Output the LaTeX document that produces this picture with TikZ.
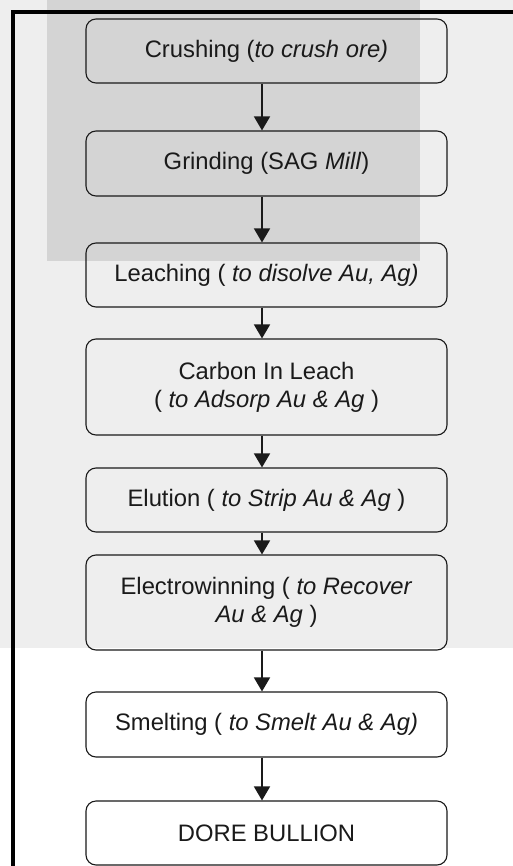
\documentclass[tikz,border=0pt]{standalone}
\usepackage{fontspec}
\setmainfont{Liberation Sans}
\usetikzlibrary{arrows.meta}
\definecolor{bandgray}{HTML}{EEEEEE}
\definecolor{markgray}{HTML}{D4D4D4}
\definecolor{ink}{HTML}{1A1A1A}
\begin{document}
\begin{tikzpicture}[x=1pt,y=-1pt,
  stepbox/.style={draw=ink,line width=1.1pt,rounded corners=10pt,minimum width=361pt,
    inner sep=0pt,align=center,text=ink,font=\fontsize{23.8}{28}\selectfont},
  flow/.style={draw=ink,line width=1.6pt,-{Triangle[width=16pt,length=14pt]}}]
\useasboundingbox (0,0) rectangle (513,866);
% background watermark tones
\fill[white] (0,0) rectangle (513,866);
\fill[bandgray] (0,0) rectangle (513,648);
\fill[markgray] (47,0) rectangle (420,261);
% frame
\draw[line width=4pt,black] (13,866) -- (13,12) -- (513,12);
% boxes
\node[stepbox,minimum height=64pt] (crush) at (266.5,51) {Crushing (\textit{to crush ore)}};
\node[stepbox,minimum height=65pt] (grind) at (266.5,163.5) {Grinding (SAG \textit{Mill})};
\node[stepbox,minimum height=64pt] (leach) at (266.5,275) {Leaching ( \textit{to disolve Au, Ag)}};
\node[stepbox,minimum height=96pt] (cil) at (266.5,387) {Carbon In Leach\\( \textit{to Adsorp Au \& Ag} )};
\node[stepbox,minimum height=64pt] (elut) at (266.5,500) {Elution ( \textit{to Strip Au \& Ag} )};
\node[stepbox,minimum height=95pt] (elec) at (266.5,602.5) {Electrowinning ( \textit{to Recover}\\\textit{Au \& Ag} )};
\node[stepbox,minimum height=65pt] (smelt) at (266.5,724.5) {Smelting ( \textit{to Smelt Au \& Ag)}};
\node[stepbox,minimum height=64pt] (dore) at (266.5,833) {DORE BULLION};
% arrows
\draw[flow] ([xshift=-4.5pt]crush.south) -- ([xshift=-4.5pt]grind.north);
\draw[flow] ([xshift=-4.5pt]grind.south) -- ([xshift=-4.5pt]leach.north);
\draw[flow] ([xshift=-4.5pt]leach.south) -- ([xshift=-4.5pt]cil.north);
\draw[flow] ([xshift=-4.5pt]cil.south) -- ([xshift=-4.5pt]elut.north);
\draw[flow] ([xshift=-4.5pt]elut.south) -- ([xshift=-4.5pt]elec.north);
\draw[flow] ([xshift=-4.5pt]elec.south) -- ([xshift=-4.5pt]smelt.north);
\draw[flow] ([xshift=-4.5pt]smelt.south) -- ([xshift=-4.5pt]dore.north);
\end{tikzpicture}
\end{document}
